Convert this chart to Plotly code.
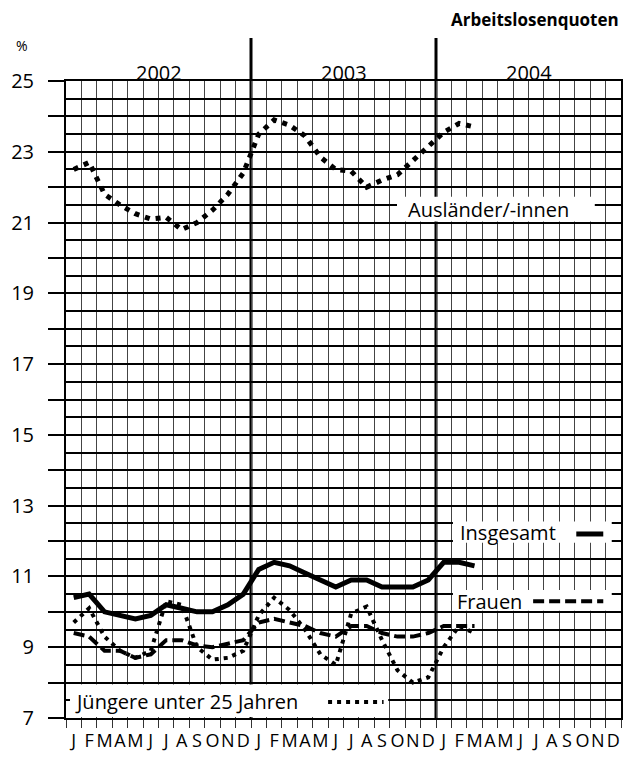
import plotly.graph_objects as go

# ---------------- data ----------------
month_letters = ["J", "F", "M", "A", "M", "J", "J", "A", "S", "O", "N", "D"] * 3
year_labels = ["2002", "2003", "2004"]
month_idx = list(range(36))
data_idx = list(range(27))  # Jan 2002 .. Mar 2004

insgesamt = [10.4, 10.5, 10.0, 9.9, 9.8, 9.9, 10.2, 10.1, 10.0, 10.0, 10.2, 10.5,
             11.2, 11.4, 11.3, 11.1, 10.9, 10.7, 10.9, 10.9, 10.7, 10.7, 10.7, 10.9,
             11.4, 11.4, 11.3]
frauen = [9.4, 9.3, 8.9, 8.9, 8.7, 8.8, 9.2, 9.2, 9.05, 9.0, 9.1, 9.2,
          9.7, 9.8, 9.7, 9.6, 9.4, 9.3, 9.6, 9.6, 9.4, 9.3, 9.3, 9.4,
          9.6, 9.6, 9.6]
juengere = [9.7, 10.1, 9.3, 8.9, 8.7, 8.9, 10.3, 10.2, 9.0, 8.65, 8.7, 8.9,
            9.9, 10.4, 10.05, 9.5, 8.8, 8.5, 9.95, 10.15, 9.2, 8.35, 8.0, 8.15,
            9.0, 9.6, 9.4]
auslaender = [22.5, 22.7, 21.8, 21.5, 21.25, 21.1, 21.15, 20.8, 21.0, 21.35, 21.8, 22.4,
              23.5, 23.9, 23.75, 23.45, 22.85, 22.5, 22.45, 22.0, 22.2, 22.35, 22.75, 23.15,
              23.55, 23.8, 23.7]

y_tick_vals = list(range(7, 26))
y_tick_text = [str(v) if v % 2 == 1 else "" for v in y_tick_vals]

FONT = "Open Sans"
W, H = 638, 757
L, R, T, B = 66, 17, 81, 39
pw, ph = W - L - R, H - T - B


def px_to_paper(px, py):
    return (px - L) / pw, 1 - (py - T) / ph


fig = go.Figure()

fig.add_trace(go.Scatter(x=data_idx, y=auslaender, mode="lines",
                         line=dict(color="black", width=5, dash="5px,6px"), name="Ausländer/-innen"))
fig.add_trace(go.Scatter(x=data_idx, y=juengere, mode="lines",
                         line=dict(color="black", width=4, dash="4px,5px"), name="Jüngere unter 25 Jahren"))
fig.add_trace(go.Scatter(x=data_idx, y=frauen, mode="lines",
                         line=dict(color="black", width=4, dash="11px,5px"), name="Frauen"))
fig.add_trace(go.Scatter(x=data_idx, y=insgesamt, mode="lines",
                         line=dict(color="black", width=5), name="Insgesamt"))

shapes = []
# year boundaries extending above plot
_, ytop = px_to_paper(0, 38)
for xb in (11.5, 23.5):
    shapes.append(dict(type="line", xref="x", yref="paper", x0=xb, x1=xb, y0=0, y1=ytop,
                       line=dict(color="black", width=3), layer="between"))

# white label boxes
boxes = [
    (20.97, 33.8, 21.03, 21.73),
    (24.6, 34.9, 11.95, 12.55),
    (24.6, 34.9, 10.03, 10.62),
    (-0.24, 20.4, 7.03, 7.95),
]
for x0, x1, y0, y1 in boxes:
    shapes.append(dict(type="rect", xref="x", yref="y", x0=x0, x1=x1, y0=y0, y1=y1,
                       fillcolor="white", line=dict(width=0), layer="between"))

# legend samples
shapes.append(dict(type="line", xref="x", yref="y", x0=32.6, x1=34.35, y0=12.2, y1=12.2,
                   line=dict(color="black", width=5), layer="above"))
shapes.append(dict(type="line", xref="x", yref="y", x0=29.8, x1=34.35, y0=10.3, y1=10.3,
                   line=dict(color="black", width=4, dash="11px,5px"), layer="above"))
shapes.append(dict(type="line", xref="x", yref="y", x0=16.5, x1=20.1, y0=7.45, y1=7.45,
                   line=dict(color="black", width=4, dash="4px,5px"), layer="above"))

annotations = []
_, yyear = px_to_paper(0, 73)
for i, yl in enumerate(year_labels):
    annotations.append(dict(x=i * 12 + 5.5, y=yyear, xref="x", yref="paper", text=yl,
                            showarrow=False, yanchor="middle",
                            font=dict(family=FONT, size=20, color="black")))
label_font = dict(family=FONT, size=20, color="black")
annotations.append(dict(x=21.55, y=21.36, xref="x", yref="y", text="Ausländer/-innen",
                        showarrow=False, xanchor="left", yanchor="middle", font=label_font))
annotations.append(dict(x=24.9, y=12.25, xref="x", yref="y", text="Insgesamt",
                        showarrow=False, xanchor="left", yanchor="middle", font=label_font))
annotations.append(dict(x=24.7, y=10.3, xref="x", yref="y", text="Frauen",
                        showarrow=False, xanchor="left", yanchor="middle", font=label_font))
annotations.append(dict(x=-0.05, y=7.47, xref="x", yref="y", text="Jüngere unter 25 Jahren",
                        showarrow=False, xanchor="left", yanchor="middle", font=label_font))
tx, ty = px_to_paper(621, 20)
annotations.append(dict(x=tx, y=ty, xref="paper", yref="paper", text="<b>Arbeitslosenquoten</b>",
                        showarrow=False, xanchor="right", yanchor="middle",
                        font=dict(family=FONT, size=17, color="black")))
px_, py_ = px_to_paper(22, 45)
annotations.append(dict(x=px_, y=py_, xref="paper", yref="paper", text="%", showarrow=False,
                        xanchor="center", yanchor="middle",
                        font=dict(family=FONT, size=14, color="black")))

fig.update_layout(
    width=W, height=H, autosize=False,
    margin=dict(l=L, r=R, t=T, b=B),
    paper_bgcolor="white", plot_bgcolor="white",
    showlegend=False,
    shapes=shapes,
    annotations=annotations,
    font=dict(family=FONT, size=17, color="black"),
)

fig.update_xaxes(
    range=[-0.5, 35.5],
    tickmode="array", tickvals=month_idx, ticktext=month_letters,
    ticks="", showgrid=False, zeroline=False, tickangle=0,
    tickfont=dict(family=FONT, size=18, color="black"),
    ticklabelstandoff=5,
    showline=True, linecolor="black", linewidth=2, mirror=True,
    automargin=False,
    minor=dict(tick0=-0.5, dtick=1, ticks="outside", ticklen=8, tickwidth=1,
               tickcolor="#333", showgrid=True, gridcolor="#444", gridwidth=1),
)
fig.update_yaxes(
    range=[7, 25],
    tickmode="array", tickvals=y_tick_vals, ticktext=y_tick_text,
    ticks="outside", ticklen=16, tickwidth=2, tickcolor="black",
    showgrid=True, gridcolor="black", gridwidth=2, zeroline=False,
    tickfont=dict(family=FONT, size=20, color="black"),
    ticklabelstandoff=10,
    showline=True, linecolor="black", linewidth=2, mirror=True,
    automargin=False,
    minor=dict(tick0=7, dtick=0.5, ticks="", showgrid=True, gridcolor="black", gridwidth=2),
)

fig.write_html("out.html", config={"displayModeBar": False},
               post_script="document.body.style.margin='0px';")
